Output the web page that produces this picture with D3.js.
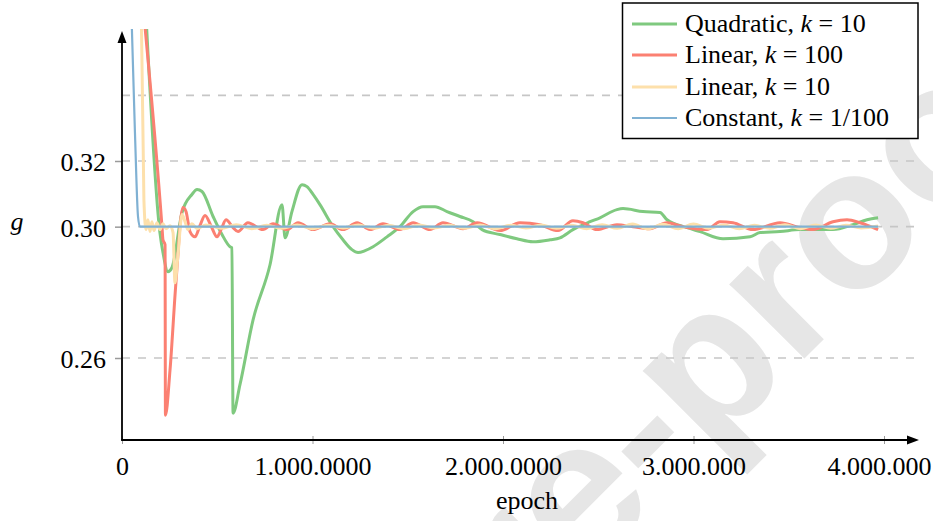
<!DOCTYPE html>
<html>
<head>
<meta charset="utf-8">
<script src="https://cdn.jsdelivr.net/npm/d3@7"></script>
<style>
  html, body { margin: 0; padding: 0; background: #ffffff; }
  svg { display: block; }
</style>
</head>
<body>
<svg id="chart" width="933" height="521"></svg>
<script>
// ---------------- data ----------------
const xTicks = [0, 1000000, 2000000, 3000000, 4000000];
const xTickLabels = ["0", "1.000.0000", "2.000.0000", "3.000.000", "4.000.000"];
const yTicks = [0.26, 0.30, 0.32];
const yTickLabels = ["0.26", "0.30", "0.32"];
const yGridValues = [0.26, 0.30, 0.32, 0.34];

const seriesNames = ["Quadratic, ", "Linear, ", "Linear, ", "Constant, "];
const seriesK = ["10", "100", "10", "1/100"];
const seriesColors = ["#7fc97f", "#fb8072", "#fde0ab", "#80b1d3"];

// [epoch, g]
const quadraticK10 = [
  [121000,0.3700],[199000,0.2982],[215000,0.2921],[241000,0.2863],[262000,0.2875],
  [315000,0.3043],[367000,0.3098],[394000,0.3113],[420000,0.3107],[478000,0.3031],
  [525000,0.2976],[567000,0.2939],[577000,0.2936],[583000,0.2432],[619000,0.2518],
  [688000,0.2716],[777000,0.2884],[840000,0.3067],[856000,0.2966],[892000,0.3046],
  [945000,0.3128],[971000,0.3122],[1003000,0.3098],[1039000,0.3067],[1108000,0.3000],
  [1160000,0.2960],[1207000,0.2930],[1239000,0.2921],[1276000,0.2927],[1318000,0.2939],
  [1391000,0.2969],[1459000,0.3000],[1528000,0.3046],[1580000,0.3061],[1643000,0.3061],
  [1706000,0.3046],[1774000,0.3031],[1843000,0.3015],[1890000,0.2991],[1984000,0.2976],
  [2073000,0.2963],[2157000,0.2954],[2247000,0.2960],[2299000,0.2966],[2367000,0.2991],
  [2457000,0.3015],[2509000,0.3027],[2598000,0.3052],[2630000,0.3055],[2735000,0.3046],
  [2824000,0.3043],[2861000,0.3021],[2966000,0.2997],[3034000,0.2985],[3155000,0.2963],
  [3297000,0.2969],[3349000,0.2982],[3454000,0.2985],[3559000,0.2991],[3732000,0.2991],
  [3837000,0.3006],[3911000,0.3021],[3969000,0.3027]
];

const linearK100 = [
  [106000,0.3699],[210000,0.3000],[215000,0.2960],[226000,0.2945],[228000,0.2426],
  [252000,0.2563],[283000,0.2829],[320000,0.3058],[336000,0.3046],[357000,0.2985],
  [383000,0.2969],[409000,0.3003],[436000,0.3034],[467000,0.3003],[499000,0.2969],
  [520000,0.2991],[546000,0.3021],[583000,0.2997],[609000,0.2985],[661000,0.3012],
  [740000,0.2991],[793000,0.3009],[866000,0.2991],[924000,0.3012],[1003000,0.2991],
  [1092000,0.3009],[1160000,0.2991],[1234000,0.3012],[1302000,0.2991],[1370000,0.3009],
  [1459000,0.2991],[1528000,0.3012],[1617000,0.2991],[1685000,0.3012],[1790000,0.2994],
  [1864000,0.3012],[1984000,0.2988],[2089000,0.3012],[2194000,0.3006],[2289000,0.2988],
  [2367000,0.3018],[2420000,0.3012],[2493000,0.2991],[2598000,0.3006],[2682000,0.3000],
  [2772000,0.2994],[2861000,0.3012],[2945000,0.3000],[3071000,0.2991],[3139000,0.3015],
  [3207000,0.3012],[3312000,0.2991],[3454000,0.3012],[3559000,0.2997],[3627000,0.2991],
  [3732000,0.3015],[3806000,0.3021],[3874000,0.3012],[3969000,0.2991]
];

const linearK10 = [
  [100000,0.3699],[115000,0.3082],[126000,0.2991],[136000,0.3021],[147000,0.2985],
  [157000,0.3015],[168000,0.2988],[184000,0.3012],[199000,0.2991],[215000,0.3009],
  [231000,0.2994],[252000,0.3003],[268000,0.2982],[278000,0.2829],[294000,0.2915],
  [315000,0.3037],[331000,0.3015],[346000,0.2991],[367000,0.3009],[394000,0.2994],
  [440000,0.3005],[520000,0.2995],[600000,0.3006],[680000,0.2994],[760000,0.3004],
  [840000,0.2995],[920000,0.3005],[1000000,0.2994],[1080000,0.3004],[1160000,0.2996],
  [1240000,0.3005],[1320000,0.2995],[1400000,0.3004],[1480000,0.2994],[1560000,0.3005],
  [1640000,0.2996],[1720000,0.3004],[1800000,0.2995],[1880000,0.3005],[1960000,0.2994],
  [2040000,0.3004],[2120000,0.2996],[2200000,0.3005],[2280000,0.2995],[2360000,0.3004],
  [2440000,0.2994],[2520000,0.3006],[2600000,0.2995],[2680000,0.3008],[2760000,0.2993],
  [2840000,0.3007],[2920000,0.2994],[3000000,0.3008],[3080000,0.2995],[3160000,0.3005],
  [3240000,0.2994],[3320000,0.3004],[3400000,0.2995],[3480000,0.3006],[3560000,0.2994],
  [3640000,0.3005],[3720000,0.2995],[3800000,0.3004],[3880000,0.2996],[3969000,0.3002]
];

const constantK001 = [
  [47000,0.3699],[68000,0.3287],[84000,0.3031],[94000,0.3000],[3969000,0.3000]
];

const allSeries = [quadraticK10, linearK100, linearK10, constantK001];
const seriesWidths = [3, 3, 3, 2.2];

// ---------------- layout ----------------
const svg = d3.select("#chart");
const x = d3.scaleLinear().domain([0, 4000000]).range([122, 884]);
const y = d3.scaleLinear().domain([0.26, 0.32]).range([358, 161]);
const xAxisY = 440, xAxisEnd = 919, yAxisTop = 31;
const serif = "'Liberation Serif', 'Times New Roman', serif";

// watermark (clipped to the page)
const defs = svg.append("defs");
defs.append("clipPath").attr("id", "pageclip")
  .append("rect").attr("x", 0).attr("y", 0).attr("width", 933).attr("height", 521);
const wm = svg.append("g").attr("clip-path", "url(#pageclip)")
  .append("g")
  .attr("transform", "translate(708,455) rotate(-45)")
  .attr("fill", "#e6e6e6")
  .attr("font-family", "'Liberation Sans', Arial, sans-serif")
  .attr("font-weight", "bold")
  .attr("font-size", 200);
wm.append("text").attr("x", 0).attr("y", 0).attr("text-anchor", "end").text("Pre-");
wm.append("text").attr("x", 0).attr("y", 0).attr("text-anchor", "start").text("proof");

// grid
svg.append("g").selectAll("line").data(yGridValues).join("line")
  .attr("x1", x(0)).attr("x2", 915)
  .attr("y1", d => y(d)).attr("y2", d => y(d))
  .attr("stroke", "#c6c6c6").attr("stroke-width", 1.7)
  .attr("stroke-dasharray", "8,8");

// clip
defs.append("clipPath").attr("id", "plotclip")
  .append("rect").attr("x", 122).attr("y", 29).attr("width", 800).attr("height", 411);

const line = d3.line()
  .x(d => x(d[0])).y(d => y(d[1]))
  .curve(d3.curveMonotoneX);

svg.append("g").attr("clip-path", "url(#plotclip)")
  .selectAll("path").data(allSeries).join("path")
  .attr("d", d => line(d))
  .attr("fill", "none")
  .attr("stroke", (d, i) => seriesColors[i])
  .attr("stroke-width", (d, i) => seriesWidths[i])
  .attr("stroke-linejoin", "round");

// x axis ticks + labels
const xAxis = d3.axisBottom(x).tickValues(xTicks)
  .tickFormat((d, i) => xTickLabels[i]).tickSize(4).tickSizeOuter(0);
const gx = svg.append("g").attr("transform", `translate(0,${xAxisY})`).call(xAxis);
gx.select(".domain").remove();
gx.selectAll(".tick line").attr("y1", -4).attr("y2", 4).attr("stroke", "#9a9a9a").attr("stroke-width", 1);
gx.selectAll(".tick text").attr("y", 35).attr("dy", null)
  .attr("x", (d, i) => i === xTicks.length - 1 ? -5 : 0)
  .attr("font-family", serif).attr("font-size", 26).attr("fill", "#000");

// y axis ticks + labels
const yAxis = d3.axisLeft(y).tickValues(yTicks)
  .tickFormat((d, i) => yTickLabels[i]).tickSize(7).tickSizeOuter(0);
const gy = svg.append("g").attr("transform", "translate(122,0)").call(yAxis);
gy.select(".domain").remove();
gy.selectAll(".tick line").attr("stroke", "#9a9a9a").attr("stroke-width", 1.5);
gy.selectAll(".tick text").attr("x", -16).attr("dy", 9.5)
  .attr("font-family", serif).attr("font-size", 26).attr("fill", "#000");

// axis lines with arrows
svg.append("line").attr("x1", 122).attr("y1", xAxisY).attr("x2", 122).attr("y2", yAxisTop + 10)
  .attr("stroke", "#000").attr("stroke-width", 1.8);
svg.append("path").attr("d", `M122,${yAxisTop} L117.5,${yAxisTop + 12} L126.5,${yAxisTop + 12} Z`).attr("fill", "#000");
svg.append("line").attr("x1", 121.1).attr("y1", xAxisY).attr("x2", xAxisEnd - 10).attr("y2", xAxisY)
  .attr("stroke", "#000").attr("stroke-width", 1.8);
svg.append("path").attr("d", `M${xAxisEnd},${xAxisY} L${xAxisEnd - 12},${xAxisY - 4.5} L${xAxisEnd - 12},${xAxisY + 4.5} Z`).attr("fill", "#000");

// axis titles
svg.append("text").attr("x", 17).attr("y", 229.5).attr("text-anchor", "middle")
  .attr("font-family", serif).attr("font-style", "italic").attr("font-size", 26).text("g");
svg.append("text").attr("x", 527).attr("y", 509).attr("text-anchor", "middle")
  .attr("font-family", serif).attr("font-size", 26).text("epoch");

// legend
const lg = svg.append("g");
lg.append("rect").attr("x", 622.5).attr("y", 3).attr("width", 295.5).attr("height", 135.5)
  .attr("fill", "#fff").attr("stroke", "#000").attr("stroke-width", 1.5);
const rowY = [24, 55, 87, 118];
const items = lg.selectAll("g.item").data(seriesNames).join("g").attr("class", "item");
items.append("line")
  .attr("x1", 632).attr("x2", 677)
  .attr("y1", (d, i) => rowY[i]).attr("y2", (d, i) => rowY[i])
  .attr("stroke", (d, i) => seriesColors[i])
  .attr("stroke-width", (d, i) => seriesWidths[i]);
const lt = items.append("text")
  .attr("x", 685).attr("y", (d, i) => rowY[i] + 8)
  .attr("font-family", serif).attr("font-size", 26).attr("fill", "#000");
lt.append("tspan").text(d => d);
lt.append("tspan").attr("font-style", "italic").text("k");
lt.append("tspan").text((d, i) => " = " + seriesK[i]);
</script>
</body>
</html>
